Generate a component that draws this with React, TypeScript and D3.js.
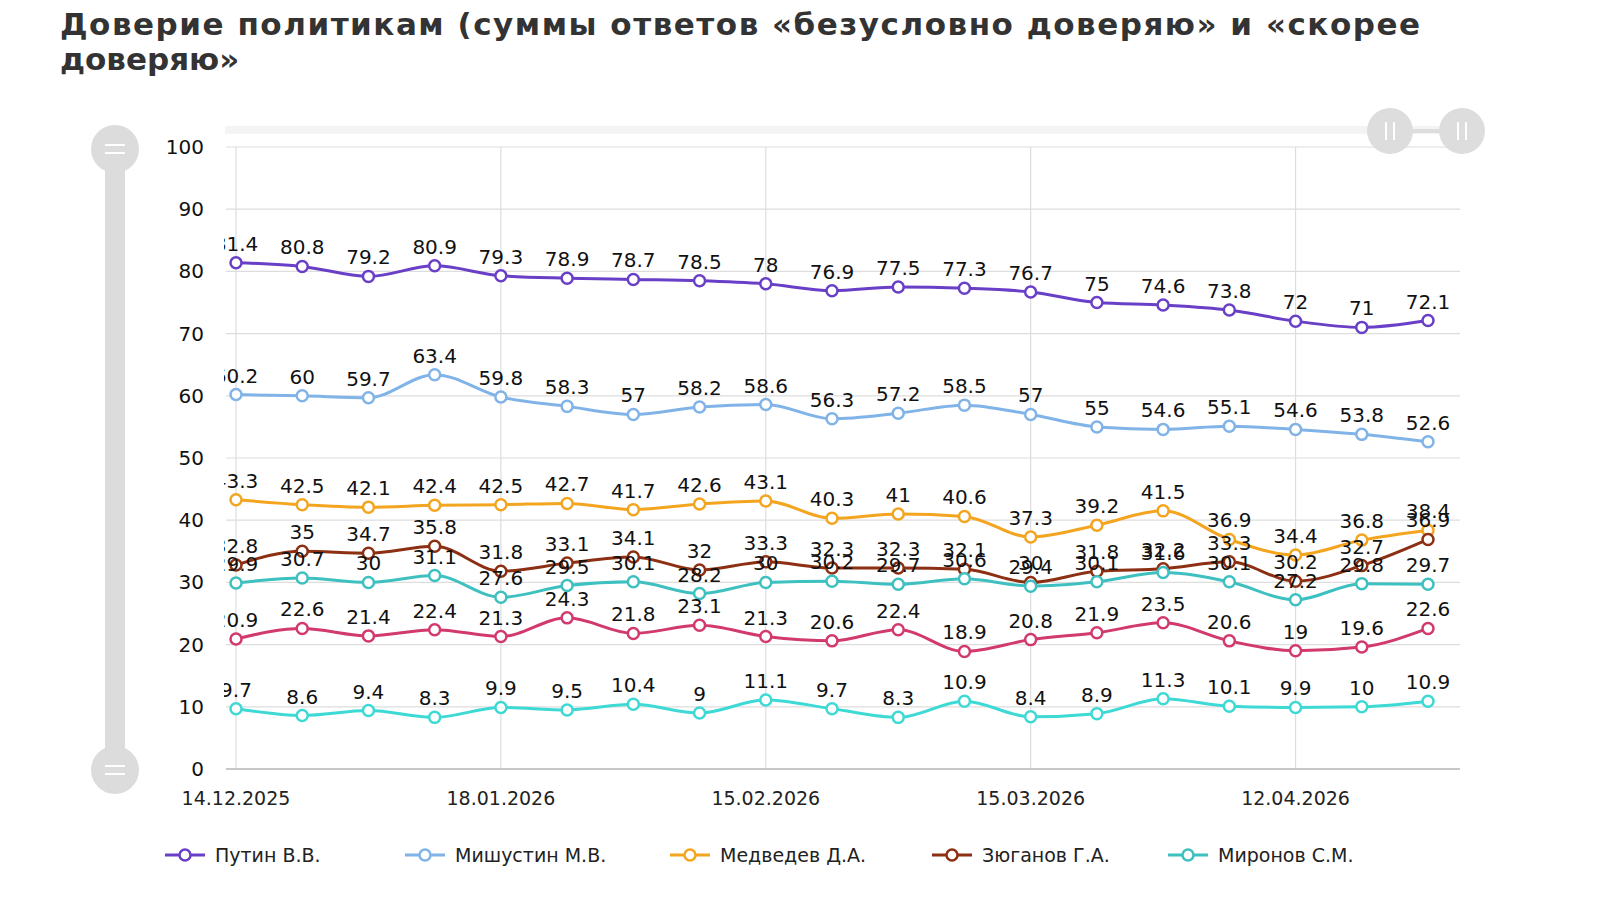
import React, { useEffect } from 'react';
import * as d3 from 'd3';

const xTickLabels = ['14.12.2025', '18.01.2026', '15.02.2026', '15.03.2026', '12.04.2026'];
const xTickIndex = [0, 4, 8, 12, 16];
const yTicks = [0, 10, 20, 30, 40, 50, 60, 70, 80, 90, 100];

const putin = [81.4, 80.8, 79.2, 80.9, 79.3, 78.9, 78.7, 78.5, 78, 76.9, 77.5, 77.3, 76.7, 75, 74.6, 73.8, 72, 71, 72.1];
const mishustin = [60.2, 60, 59.7, 63.4, 59.8, 58.3, 57, 58.2, 58.6, 56.3, 57.2, 58.5, 57, 55, 54.6, 55.1, 54.6, 53.8, 52.6];
const medvedev = [43.3, 42.5, 42.1, 42.4, 42.5, 42.7, 41.7, 42.6, 43.1, 40.3, 41, 40.6, 37.3, 39.2, 41.5, 36.9, 34.4, 36.8, 38.4];
const zyuganov = [32.8, 35, 34.7, 35.8, 31.8, 33.1, 34.1, 32, 33.3, 32.3, 32.3, 32.1, 30, 31.8, 32.2, 33.3, 30.2, 32.7, 36.9];
const mironov = [29.9, 30.7, 30, 31.1, 27.6, 29.5, 30.1, 28.2, 30, 30.2, 29.7, 30.6, 29.4, 30.1, 31.6, 30.1, 27.2, 29.8, 29.7];
const pinkSeries = [20.9, 22.6, 21.4, 22.4, 21.3, 24.3, 21.8, 23.1, 21.3, 20.6, 22.4, 18.9, 20.8, 21.9, 23.5, 20.6, 19, 19.6, 22.6];
const cyanSeries = [9.7, 8.6, 9.4, 8.3, 9.9, 9.5, 10.4, 9, 11.1, 9.7, 8.3, 10.9, 8.4, 8.9, 11.3, 10.1, 9.9, 10, 10.9];

const series = [
  { name: 'Путин В.В.', values: putin, color: '#6a3fc8', legend: true },
  { name: 'Мишустин М.В.', values: mishustin, color: '#80b3e8', legend: true },
  { name: 'Медведев Д.А.', values: medvedev, color: '#f4a51f', legend: true },
  { name: 'Зюганов Г.А.', values: zyuganov, color: '#8c2f12', legend: true },
  { name: 'Миронов С.М.', values: mironov, color: '#3fc0c0', legend: true },
  { name: '', values: pinkSeries, color: '#d2396f', legend: false },
  { name: '', values: cyanSeries, color: '#3dd9d5', legend: false },
];

const font = '"DejaVu Sans", "Open Sans", sans-serif';

export default function App() {
  useEffect(() => {
    document.body.style.margin = '0';
    document.body.style.overflow = 'hidden';
  }, []);

  const x = d3.scaleLinear().domain([0, 18]).range([236, 1428]);
  const y = d3.scaleLinear().domain([0, 100]).range([769, 147]);
  const line = d3
    .line<number>()
    .x((_d, i) => x(i))
    .y((d) => y(d))
    .curve(d3.curveMonotoneX);

  return (
    <svg
      width={1600}
      height={900}
      viewBox="0 0 1600 900"
      style={{ position: 'fixed', left: 0, top: 0, background: '#fff', display: 'block' }}
    >
      <defs>
        <clipPath id="plot">
          <rect x={224} y={100} width={1300} height={700} />
        </clipPath>
      </defs>
      <text x={60} y={35} fontFamily={font} fontWeight={700} fontSize={31} fill="#333" textLength={1360}>
        Доверие политикам (суммы ответов «безусловно доверяю» и «скорее
      </text>
      <text x={60} y={70} fontFamily={font} fontWeight={700} fontSize={31} fill="#333">
        доверяю»
      </text>

      {/* top scroll bar */}
      <rect x={225} y={126} width={1240} height={8} fill="#f4f4f4" />
      <line x1={1390} x2={1462} y1={131} y2={131} stroke="#ddd" strokeWidth={4} />
      {[1390, 1462].map((cx) => (
        <g key={cx}>
          <circle cx={cx} cy={131} r={23} fill="#ddd" />
          <line x1={cx - 4} x2={cx - 4} y1={122} y2={140} stroke="#fff" strokeWidth={2} />
          <line x1={cx + 4} x2={cx + 4} y1={122} y2={140} stroke="#fff" strokeWidth={2} />
        </g>
      ))}

      {/* left slider */}
      <rect x={105} y={150} width={20} height={615} fill="#dcdcdc" />
      {[149, 770].map((cy) => (
        <g key={cy}>
          <circle cx={115} cy={cy} r={24} fill="#dcdcdc" />
          <line x1={105} x2={125} y1={cy - 4} y2={cy - 4} stroke="#fff" strokeWidth={2} />
          <line x1={105} x2={125} y1={cy + 4} y2={cy + 4} stroke="#fff" strokeWidth={2} />
        </g>
      ))}

      {/* grid */}
      {yTicks.map((t) => (
        <g key={t}>
          <line x1={226} x2={1460} y1={y(t)} y2={y(t)} stroke="#ddd" strokeWidth={1.2} />
          <text x={204} y={y(t) + 7} textAnchor="end" fontFamily={font} fontSize={20} fill="#111">
            {t}
          </text>
        </g>
      ))}
      {xTickIndex.map((idx, k) => (
        <g key={idx}>
          <line x1={x(idx)} x2={x(idx)} y1={147} y2={769} stroke="#ddd" strokeWidth={1.2} />
          <text x={x(idx)} y={805} textAnchor="middle" fontFamily={font} fontSize={19} fill="#222">
            {xTickLabels[k]}
          </text>
        </g>
      ))}
      <line x1={226} x2={1460} y1={769} y2={769} stroke="#bbb" strokeWidth={1.5} />

      <g clipPath="url(#plot)">
        {series.map((s, si) => (
          <g key={si}>
            <path d={line(s.values) ?? ''} fill="none" stroke={s.color} strokeWidth={3} />
            {s.values.map((v, i) => (
              <circle key={i} cx={x(i)} cy={y(v)} r={5.5} fill="#fff" stroke={s.color} strokeWidth={2.5} />
            ))}
          </g>
        ))}
        {series.map((s, si) =>
          s.values.map((v, i) => (
            <text
              key={`${si}-${i}`}
              x={x(i)}
              y={y(v) - 12}
              textAnchor="middle"
              fontFamily={font}
              fontSize={20}
              fill="#111"
            >
              {v}
            </text>
          ))
        )}
      </g>

      {/* legend */}
      {series
        .filter((s) => s.legend)
        .map((s, i) => {
          const lx = [165, 405, 670, 932, 1168][i];
          return (
            <g key={s.name}>
              <line x1={lx} x2={lx + 40} y1={855} y2={855} stroke={s.color} strokeWidth={3} />
              <circle cx={lx + 20} cy={855} r={5.5} fill="#fff" stroke={s.color} strokeWidth={2.5} />
              <text x={lx + 50} y={862} fontFamily={font} fontSize={19} fill="#222">
                {s.name}
              </text>
            </g>
          );
        })}
    </svg>
  );
}
